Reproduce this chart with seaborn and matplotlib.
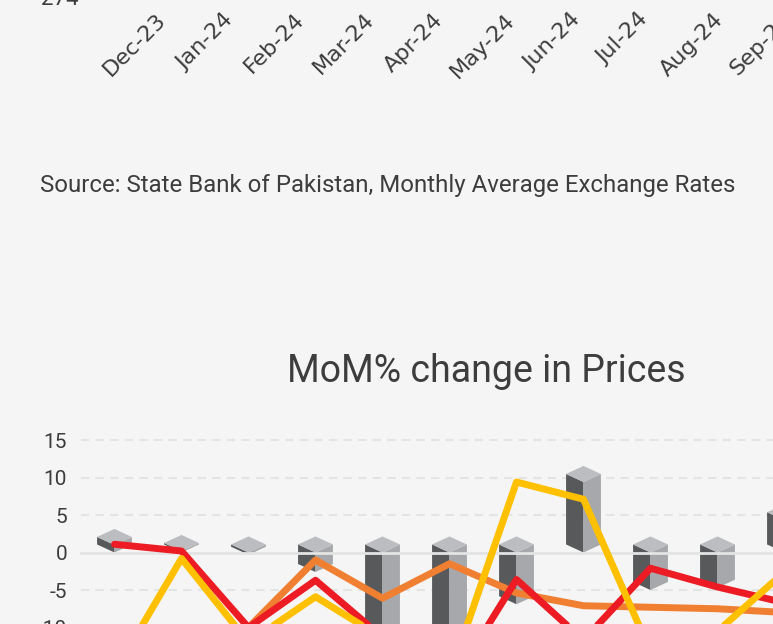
import matplotlib
matplotlib.use("Agg")
import matplotlib.pyplot as plt
import seaborn as sns
import numpy as np
import pandas as pd

# data
months = ["Dec-23", "Jan-24", "Feb-24", "Mar-24", "Apr-24", "May-24",
          "Jun-24", "Jul-24", "Aug-24", "Sep-24", "Oct-24"]
bar_values = [1.0, 0.2, -0.3, -2.6, -12.0, -11.0, -6.9, 9.4, -5.0, -4.7, 4.3]
red_values = [1.1, 0.2, -10.0, -3.7, -11.3, -18.0, -3.6, -11.7, -2.1, -4.6, -6.7]
orange_values = [np.nan, np.nan, -10.0, -1.0, -6.1, -1.5, -5.4, -7.1, -7.3, -7.5, -8.0]
yellow_values = [-16.0, -0.8, -12.0, -5.9, -11.4, -16.5, 9.4, 7.1, -13.2, -10.5, -2.6]
y_ticks = [-20, -15, -10, -5, 0, 5, 10, 15]
top_ytick = [274]

BG = "#f4f5f4"
TXT = "#3d3d3d"
GRID = "#e3e4e4"

sns.set_theme(style="white")
plt.rcParams["font.family"] = ["Roboto", "DejaVu Sans"]

W, H = 773, 624
fig = plt.figure(figsize=(W / 100, H / 100), dpi=100)
fig.patch.set_facecolor(BG)


def px_box(left, top, right, bottom):
    return [left / W, 1 - bottom / H, (right - left) / W, (bottom - top) / H]


# --- tail of the exchange rate chart above (only its x axis shows) ---
step_top = 69.6
ax_top = fig.add_axes(px_box(81, -200, 81 + step_top * 12, -3))
ax_top.set_facecolor("none")
ax_top.set_xlim(-0.776, -0.776 + 12)
ax_top.set_ylim(274, 290)
ax_top.set_xticks(range(len(months)), months, rotation=45, ha="center",
                  fontsize=16, color=TXT, family="DejaVu Sans")
ax_top.set_xticks(np.arange(len(months)) - 0.62, minor=True)
ax_top.tick_params(axis="x", which="major", length=0, pad=9)
ax_top.tick_params(axis="x", which="minor", length=5, width=1, color="#d5d6d6")
ax_top.set_yticks(top_ytick, [str(t) for t in top_ytick], fontsize=16, color=TXT)
ax_top.tick_params(axis="y", length=0, pad=2)
for s in ax_top.spines.values():
    s.set_visible(False)

fig.text(40 / W, 1 - 192 / H,
         "Source: State Bank of Pakistan, Monthly Average Exchange Rates",
         fontsize=17.3, color=TXT, va="baseline", ha="left")

fig.text(486 / W, 1 - 382 / H, "MoM% change in Prices",
         fontsize=27, color=TXT, va="baseline", ha="center")

# --- MoM chart ---
ax = fig.add_axes(px_box(81, 425, 81 + 67 * len(months), 702.5))
ax.set_facecolor("none")
ax.set_xlim(-0.5, len(months) - 0.5)
ax.set_ylim(-20, 17)
ax.set_axisbelow(True)
ax.set_yticks(y_ticks, [str(t) for t in y_ticks], fontsize=15, color=TXT)
ax.tick_params(axis="y", length=0, pad=10)
ax.yaxis.grid(True, linestyle=(0, (4, 3)), color=GRID, lw=1.5)
ax.set_xticks(np.arange(len(months) + 1) - 0.5)
ax.tick_params(axis="x", length=5, width=1.5, color=GRID, direction="out",
               labelbottom=False)
for name, s in ax.spines.items():
    s.set_visible(name == "bottom")
ax.spines["bottom"].set_position(("data", 0))
ax.spines["bottom"].set_color(GRID)
ax.spines["bottom"].set_linewidth(2)

# pseudo-3D columns
hw, d = 0.26, 1.07
for i, v in enumerate(bar_values):
    top, bot = max(v, 0), min(v, 0)
    ax.fill([i - hw, i, i, i - hw], [top + d, top, bot, bot + d],
            color="#58595b", lw=0, zorder=1.5)
    ax.fill([i, i + hw, i + hw, i], [top, top + d, bot + d, bot],
            color="#a7a8ab", lw=0, zorder=1.5)
    ax.fill([i, i - hw, i, i + hw], [top, top + d, top + 2 * d, top + d],
            color="#bcbdc0", lw=0, zorder=1.5)

df = pd.DataFrame({
    "pos": list(range(len(months))) * 3,
    "value": orange_values + red_values + yellow_values,
    "series": ["orange"] * len(months) + ["red"] * len(months) + ["yellow"] * len(months),
}).dropna()
sns.lineplot(data=df, x="pos", y="value", hue="series",
             hue_order=["orange", "red", "yellow"],
             palette={"orange": "#f07f32", "red": "#ed1c24", "yellow": "#ffc000"},
             lw=5, legend=False, errorbar=None, sort=False, ax=ax, zorder=3)
ax.set_xlabel("")
ax.set_ylabel("")

fig.savefig("out.png", dpi=100, facecolor=BG)
